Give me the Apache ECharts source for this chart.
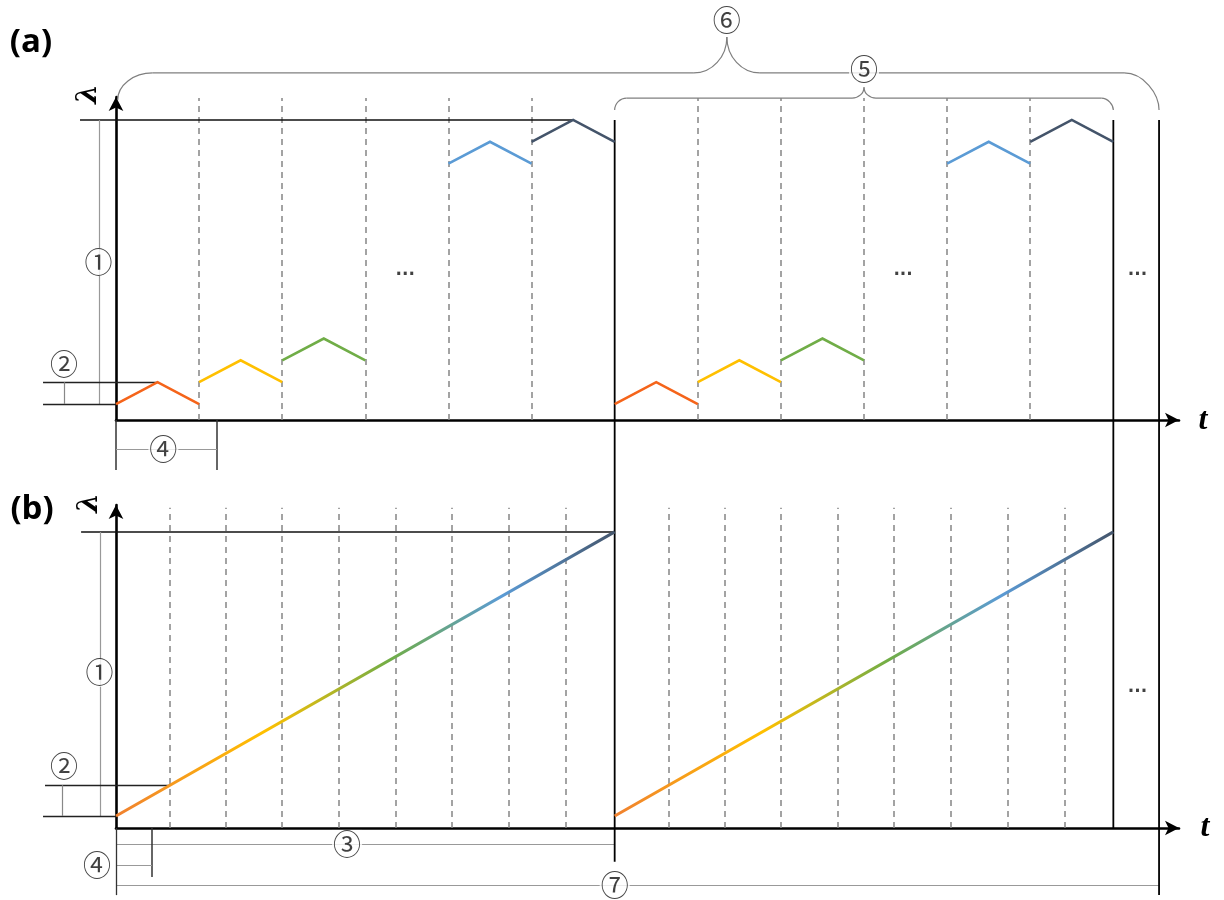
<!DOCTYPE html>
<html>
<head>
<meta charset="utf-8">
<script src="https://cdn.jsdelivr.net/npm/echarts@6.0.0/dist/echarts.min.js"></script>
<style>
html,body{margin:0;padding:0;background:#ffffff;}
#chart{width:1224px;height:900px;}
</style>
</head>
<body>
<div id="chart"></div>
<script>
// ---------- data ----------
// t: time in units of one sweep step; λ: wavelength in units of one step increment
const periodStarts = [0, 6];
const tTotalEnd = 12.55;
const lambdaTop = 13;

// panel (a): stepwise triangular sweeps inside one period
const sweepOrange = [[0, 0], [0.5, 1], [1, 0]];
const sweepYellow = [[1, 1], [1.5, 2], [2, 1]];
const sweepGreen  = [[2, 2], [2.5, 3], [3, 2]];
const sweepBlue   = [[4, 11], [4.5, 12], [5, 11]];
const sweepDark   = [[5, 12], [5.5, 13], [6, 12]];
const sweepColors = ['#F5641A', '#FFC000', '#70AD47', '#5B9BD5', '#44546A'];
const stepBoundsA = [1, 2, 3, 4, 5];
const dashTopA = 14;

// panel (b): continuous ramp inside one period
const rampB = [[0, 0], [6, 13]];
const stepBoundsB = [0.65, 1.32, 2.0, 2.68, 3.36, 4.04, 4.73, 5.41];
const dashTopB = 14.1;
const rampColors = ['#F08030', '#FFC000', '#70AD47', '#5B9BD5', '#44546A'];
const rampStops = [0, 0.3, 0.55, 0.77, 1];

// axis extents
const tMax = 12.79;
const lamRangeA = [-0.73, 14.05];
const lamRangeB = [-0.55, 14.23];

// annotation labels [text, t, λ]
const labelsA = [['①', -0.21, 6.5], ['②', -0.626, 1.83], ['④', 0.57, -2.06],
                 ['...', 3.48, 6.13], ['...', 9.47, 6.13], ['...', 12.29, 6.13]];
const labelsB = [['①', -0.2, 6.55], ['②', -0.626, 2.29], ['③', 2.78, -1.28],
                 ['④', -0.229, -2.24], ['⑦', 6.0, -3.16], ['...', 12.29, 5.86]];
const braceLabels = [['⑥', 7.35, 17.57], ['⑤', 9.0, 15.33]];

// ---------- chart ----------
const chart = echarts.init(document.getElementById('chart'), null, {renderer: 'canvas'});

const BLACK = '#111111', GRAY = '#858585', DIM = '#7f7f7f';
const sweeps = [sweepOrange, sweepYellow, sweepGreen, sweepBlue, sweepDark];

function axisX(gi) {
  return {
    type: 'value', gridIndex: gi, min: 0, max: tMax,
    axisLine: {show: true, onZero: false, symbol: ['none', 'arrow'], symbolSize: [11, 14],
               lineStyle: {color: '#000', width: 2.6}},
    axisTick: {show: false}, axisLabel: {show: false}, splitLine: {show: false}
  };
}
function axisY(gi, r) {
  return {
    type: 'value', gridIndex: gi, min: r[0], max: r[1],
    axisLine: {show: true, onZero: false, symbol: ['none', 'arrow'], symbolSize: [11, 14],
               lineStyle: {color: '#000', width: 2.6}},
    axisTick: {show: false}, axisLabel: {show: false}, splitLine: {show: false}
  };
}
function seg(coords, color, width, type) {
  return {coords: coords, lineStyle: {color: color, width: width, type: type || 'solid', opacity: 1}};
}
function dashed(bounds, lo, hi) {
  const out = [];
  periodStarts.forEach(p => bounds.forEach(b => out.push(seg([[p + b, lo], [p + b, hi]], GRAY, 1.5, [6, 5]))));
  return out;
}
function linesSeries(gi, z, data, poly) {
  return {type: 'lines', coordinateSystem: 'cartesian2d', xAxisIndex: gi, yAxisIndex: gi, clip: false,
          z: z, silent: true, polyline: !!poly, lineStyle: {opacity: 1}, data: data};
}
function labelSeries(gi, labels) {
  return {
    type: 'scatter', xAxisIndex: gi, yAxisIndex: gi, clip: false, z: 10,
    symbolSize: 1, itemStyle: {color: 'rgba(0,0,0,0)'},
    data: labels.map(l => ({name: l[0], value: [l[1], l[2]],
      label: l[0] === '...' ?
        {fontFamily: 'DejaVu Sans', fontWeight: 'bold', fontSize: 17, backgroundColor: 'transparent', padding: 0} : {}})),
    label: {show: true, position: 'inside', formatter: '{b}', color: '#111',
            fontFamily: 'Noto Sans CJK SC', fontSize: 28, backgroundColor: '#ffffff', padding: [0, 1]},
    silent: true
  };
}

// panel (a) sweep lines, both periods
const sweepItemsA = [];
periodStarts.forEach(p => sweeps.forEach((s, i) =>
  sweepItemsA.push(seg(s.map(d => [d[0] + p, d[1]]), sweepColors[i], 2.6))));

const annoA = [
  seg([[-0.433, lambdaTop], [sweepDark[1][0], lambdaTop]], BLACK, 1.5),
  seg([[-0.205, lambdaTop], [-0.205, 0]], '#999', 1.2),
  seg([[-0.878, 1], [sweepOrange[1][0], 1]], '#222', 1.4),
  seg([[-0.878, 0], [0, 0]], '#222', 1.4),
  seg([[-0.626, 0], [-0.626, 1]], '#888', 1.2),
  seg([[0, lamRangeA[0]], [0, -3.02]], '#333', 1.5),
  seg([[1.215, lamRangeA[0]], [1.215, -3.02]], '#333', 1.5),
  seg([[0, -2.06], [1.215, -2.06]], '#999', 1.2)
];

const rampFirstStep = rampB[0][1] + (rampB[1][1] - rampB[0][1]) * stepBoundsB[0] / (rampB[1][0] - rampB[0][0]);
const annoB = [
  seg([[-0.42, lambdaTop], [6, lambdaTop]], BLACK, 1.5),
  seg([[-0.19, lambdaTop], [-0.19, 0]], '#999', 1.2),
  seg([[-0.854, rampFirstStep], [stepBoundsB[0], rampFirstStep]], '#222', 1.4),
  seg([[-0.878, 0], [0, 0]], '#222', 1.4),
  seg([[-0.65, 0], [-0.65, rampFirstStep]], '#888', 1.2),
  seg([[0, -1.28], [6, -1.28]], '#999', 1.2),
  seg([[0.433, lamRangeB[0]], [0.433, -2.79]], '#333', 1.5),
  seg([[0, -2.24], [0.433, -2.24]], '#999', 1.2),
  seg([[0, -3.16], [tTotalEnd, -3.16]], '#999', 1.2),
  seg([[0, lamRangeB[0]], [0, -3.62]], '#333', 1.3)
];

const rampSeries = periodStarts.map(p => ({
  type: 'line', xAxisIndex: 1, yAxisIndex: 1, z: 5, clip: false,
  showSymbol: false, symbol: 'none', silent: true,
  data: rampB.map(d => [d[0] + p, d[1]]),
  lineStyle: {width: 3, color: {type: 'linear', x: 0, y: 0, x2: 1, y2: 0,
    colorStops: rampColors.map((c, i) => ({offset: rampStops[i], color: c}))}}
}));

const option = {
  animation: false,
  backgroundColor: '#ffffff',
  grid: [
    {left: 116, right: 45, top: 97, bottom: 480, outerBoundsMode: 'none'},
    {left: 116, right: 45, top: 505, bottom: 72, outerBoundsMode: 'none'}
  ],
  xAxis: [axisX(0), axisX(1)],
  yAxis: [axisY(0, lamRangeA), axisY(1, lamRangeB)],
  series: [
    linesSeries(0, 2, dashed(stepBoundsA, lamRangeA[0], dashTopA)),
    linesSeries(0, 3, annoA),
    linesSeries(0, 5, sweepItemsA, true),
    labelSeries(0, labelsA.concat(braceLabels)),
    linesSeries(1, 2, dashed(stepBoundsB, lamRangeB[0], dashTopB)),
    linesSeries(1, 3, annoB),
    rampSeries[0], rampSeries[1],
    labelSeries(1, labelsB)
  ]
};
chart.setOption(option);

// ---------- overlay: spanning period lines, braces, titles ----------
function px(g, t, l) { return chart.convertToPixel({gridIndex: g}, [t, l]); }
const k = 0.552;
const braceStyle = {fill: null, stroke: DIM, lineWidth: 1.2};
function line(x1, y1, x2, y2, style) {
  return {type: 'line', z: 1, silent: true, shape: {x1: x1, y1: y1, x2: x2, y2: y2}, style: style};
}
function bez(x1, y1, c1x, c1y, c2x, c2y, x2, y2) {
  return {type: 'bezierCurve', z: 1, silent: true,
          shape: {x1: x1, y1: y1, cpx1: c1x, cpy1: c1y, cpx2: c2x, cpy2: c2y, x2: x2, y2: y2},
          style: braceStyle};
}
function brace(tL, tR, tC, lamL, lamR, lamBar, lamTip, rE, rC) {
  const pL = px(0, tL, lamL), pR = px(0, tR, lamR), pC = px(0, tC, lamTip);
  const yB = px(0, 0, lamBar)[1];
  const xL = pL[0], yL = pL[1], xR = pR[0], yR = pR[1], xC = pC[0], yT = pC[1];
  return [
    bez(xL, yL, xL, yL - (yL - yB) * k, xL + rE * (1 - k), yB, xL + rE, yB),
    line(xL + rE, yB, xC - rC, yB, braceStyle),
    bez(xC - rC, yB, xC - rC * (1 - k), yB, xC, yT + (yB - yT) * k, xC, yT),
    bez(xC, yT, xC, yT + (yB - yT) * k, xC + rC * (1 - k), yB, xC + rC, yB),
    line(xC + rC, yB, xR - rE, yB, braceStyle),
    bez(xR - rE, yB, xR - rE * (1 - k), yB, xR, yB + (yR - yB) * k, xR, yR)
  ];
}
const spans = [[6, lambdaTop, -2.1], [12, lambdaTop, lamRangeB[0]], [tTotalEnd, lambdaTop, -3.62]];
let gfx = [];
spans.forEach(s => {
  const a = px(0, s[0], s[1]), b = px(1, s[0], s[2]);
  const el = line(a[0], a[1], b[0], b[1], {stroke: '#000', lineWidth: 1.8});
  el.z = 4;
  gfx.push(el);
});
gfx = gfx.concat(brace(0.02, tTotalEnd, 7.35, 13.9, 13.45, 15.15, 16.8, 35, 33));
gfx = gfx.concat(brace(6.0, 12.0, 9.0, 13.45, 13.45, 14.0, 14.5, 12, 12));

function txt(x, y, text, font, rot) {
  return {type: 'text', x: x, y: y, rotation: rot || 0, z: 20, silent: true,
          style: {text: text, font: font, fill: '#000', align: 'center', verticalAlign: 'middle'}};
}
gfx.push(txt(31, 43, '(a)', 'bold 33px "Open Sans"'));
gfx.push(txt(32, 510, '(b)', 'bold 33px "Open Sans"'));
gfx.push(txt(1203, 421, 't', 'italic bold 32px "Liberation Serif"'));
gfx.push(txt(1205, 828, 't', 'italic bold 32px "Liberation Serif"'));
gfx.push(txt(89, 94, 'λ', 'italic bold 28px "DejaVu Serif"', Math.PI / 2));
gfx.push(txt(90, 503, 'λ', 'italic bold 28px "DejaVu Serif"', Math.PI / 2));
chart.setOption({graphic: {elements: gfx}});
</script>
</body>
</html>
